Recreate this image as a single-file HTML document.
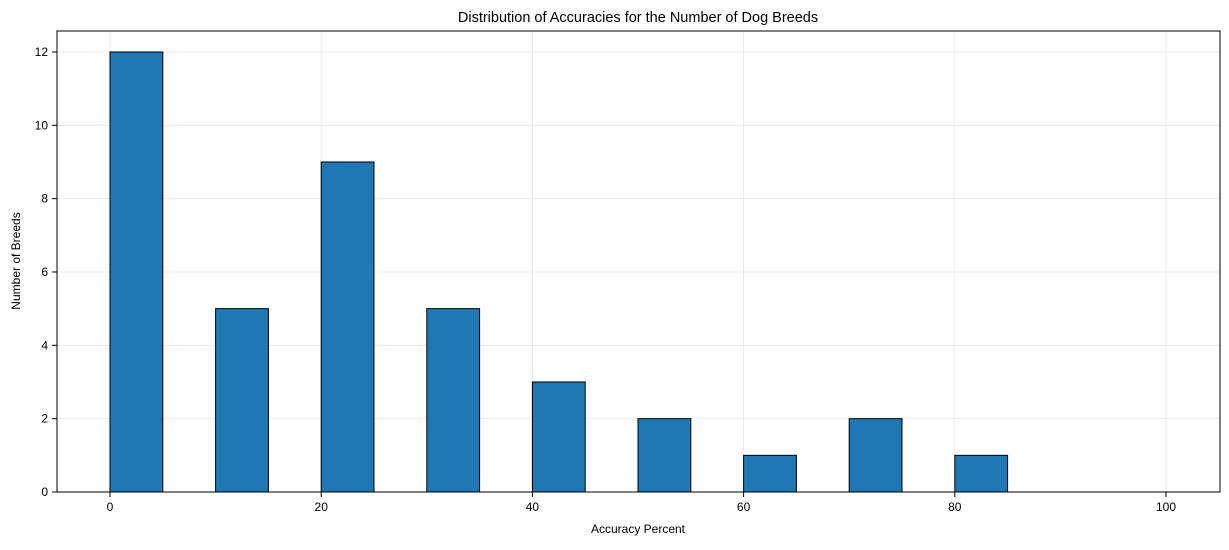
<!DOCTYPE html>
<html><head><meta charset="utf-8"><style>
body{margin:0;background:#fff;}
svg text{font-family:"Liberation Sans",sans-serif;fill:#000;}
</style></head><body>
<svg id="chart" width="1229" height="545" viewBox="0 0 1229 545">
<text x="638" y="22" font-size="14.5" text-anchor="middle">Distribution of Accuracies for the Number of Dog Breeds</text>
<text x="638" y="533" font-size="12" text-anchor="middle">Accuracy Percent</text>
<text transform="translate(20,261) rotate(-90)" font-size="12" text-anchor="middle">Number of Breeds</text>
<g id="grid"></g><g id="bars"></g><g id="ticks"></g>
<rect x="57" y="31" width="1163" height="461" fill="none" stroke="#000" stroke-width="1"/>
</svg>
<script>
const binEdges=[0,5,10,15,20,25,30,35,40,45,50,55,60,65,70,75,80,85,90,95,100];
const counts=[12,0,5,0,9,0,5,0,3,0,2,0,1,0,2,0,1,0,0,0];
const xTicks=[0,20,40,60,80,100];
const yTicks=[0,2,4,6,8,10,12];
const NS="http://www.w3.org/2000/svg";
const X=v=>110+v*10.56, Y=v=>492-v*36.67;
function mk(t,a,p){const e=document.createElementNS(NS,t);for(const k in a)e.setAttribute(k,a[k]);p.appendChild(e);return e;}
const grid=document.getElementById('grid'),bars=document.getElementById('bars'),ticks=document.getElementById('ticks');
xTicks.forEach(v=>{
 const g=mk('line',{x1:X(v),x2:X(v),y1:31,y2:492,stroke:'#e6e6e6','stroke-width':0.8},grid);
 
 
 const t=mk('line',{x1:X(v),x2:X(v),y1:492,y2:497,stroke:'#000'},ticks);
 
 
 const l=mk('text',{x:X(v),y:511,'font-size':12,'text-anchor':'middle'},ticks);l.textContent=v;
 
 
});
yTicks.forEach(v=>{
 const g=mk('line',{x1:57,x2:1220,y1:Y(v),y2:Y(v),stroke:'#e6e6e6','stroke-width':0.8},grid);
 
 
 const t=mk('line',{x1:52,x2:57,y1:Y(v),y2:Y(v),stroke:'#000'},ticks);
 
 
 const l=mk('text',{x:48,y:Y(v)+4,'font-size':12,'text-anchor':'end'},ticks);l.textContent=v;
 
 
});
counts.forEach((c,i)=>{
 const x0=X(binEdges[i]),x1=X(binEdges[i+1]);
 const r=mk('rect',{x:x0,y:Y(c),width:x1-x0,height:Y(0)-Y(c),fill:'#1f77b4',stroke:'#000','stroke-width':1},bars);
 
 
});
</script>
</body></html>
